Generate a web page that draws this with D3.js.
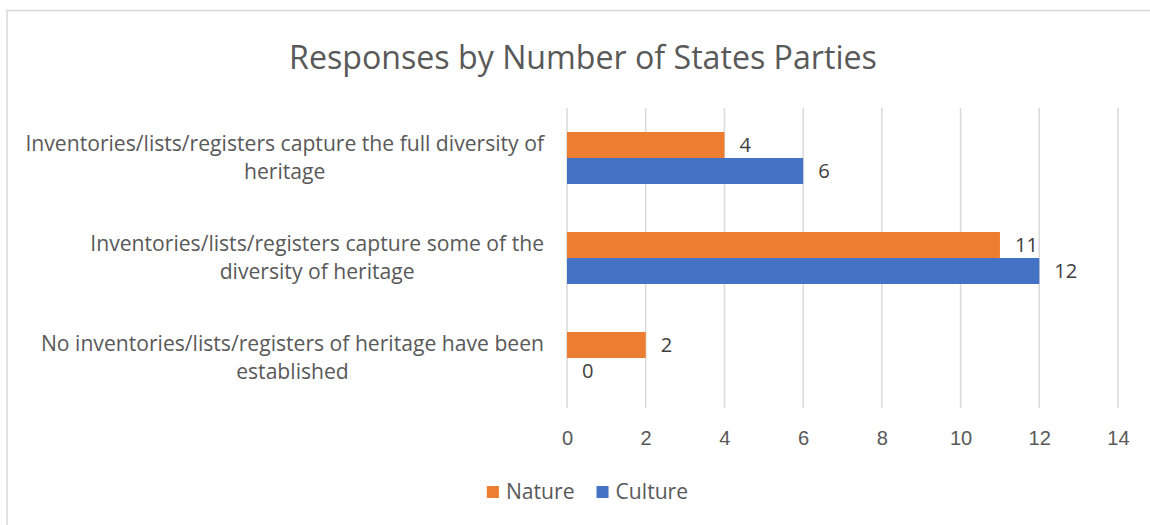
<!DOCTYPE html>
<html>
<head>
<meta charset="utf-8">
<script src="https://cdn.jsdelivr.net/npm/d3@7"></script>
<style>
  html, body { margin: 0; padding: 0; background: #fff; }
  svg { display: block; font-family: "Open Sans", "Noto Sans", sans-serif; }
</style>
</head>
<body>
<svg id="chart" width="1150" height="525"></svg>
<script>
// ---- data ----
const title = "Responses by Number of States Parties";
const categories = [
  "Inventories/lists/registers capture the full diversity of heritage",
  "Inventories/lists/registers capture some of the diversity of heritage",
  "No inventories/lists/registers of heritage have been established"
];
const categoryLines = [
  ["Inventories/lists/registers capture the full diversity of", "heritage"],
  ["Inventories/lists/registers capture some of the", "diversity of heritage"],
  ["No inventories/lists/registers of heritage have been", "established"]
];
const seriesNames = ["Nature", "Culture"];
const natureValues = [4, 11, 2];
const cultureValues = [6, 12, 0];
const xTicks = [0, 2, 4, 6, 8, 10, 12, 14];
const colors = ["#ED7D31", "#4472C4"];

// ---- layout ----
const svg = d3.select("#chart");
const plot = { left: 567, right: 1118, top: 108, bottom: 408 };
const textColor = "#595959";

// border
svg.append("rect")
  .attr("x", 7).attr("y", 10.5)
  .attr("width", 1160).attr("height", 540)
  .attr("fill", "none").attr("stroke", "#d9d9d9").attr("stroke-width", 1.5);

const x = d3.scaleLinear().domain([0, 14]).range([plot.left, plot.right]);
const y = d3.scaleBand().domain(categories).range([plot.top, plot.bottom])
  .paddingInner(0.48).paddingOuter(0.24);
const ySub = d3.scaleBand().domain(seriesNames).range([0, y.bandwidth()]);

// fit helper
function fitSize(text, targetWidth) {
  const t = svg.append("text").attr("font-size", 100).text(text);
  const w = t.node().getComputedTextLength();
  t.remove();
  return 100 * targetWidth / w;
}
const bodySize = fitSize(categoryLines[0][0], 519);
const titleSize = fitSize(title, 588);
const numSize = fitSize("14", 23);

// title
svg.append("text")
  .attr("x", 583).attr("y", 56)
  .attr("text-anchor", "middle").attr("dominant-baseline", "central")
  .attr("font-size", titleSize).attr("fill", textColor)
  .text(title);

// gridlines
svg.append("g").selectAll("line").data(xTicks).join("line")
  .attr("x1", d => x(d)).attr("x2", d => x(d))
  .attr("y1", plot.top).attr("y2", plot.bottom)
  .attr("stroke", "#d9d9d9").attr("stroke-width", 1.5);

// x axis labels via d3 axis
const xAxis = d3.axisBottom(x).tickValues(xTicks).tickSize(0).tickPadding(0);
const gx = svg.append("g").attr("transform", `translate(0, ${plot.bottom})`).call(xAxis);
gx.select(".domain").remove();
gx.selectAll("text")
  .attr("y", 30).attr("dy", "0.35em")
  .attr("font-size", numSize).attr("font-family", null).attr("fill", textColor);

// category labels
const lineH = 28;
const catG = svg.append("g");
categories.forEach((c, i) => {
  const lines = categoryLines[i];
  const cy = y(c) + y.bandwidth() / 2;
  const t = catG.append("text")
    .attr("font-size", bodySize).attr("fill", textColor)
    .attr("text-anchor", "middle");
  lines.forEach((ln, j) => {
    t.append("tspan").attr("x", 0)
      .attr("y", cy + (j - (lines.length - 1) / 2) * lineH)
      .attr("dy", "0.35em").text(ln);
  });
  const bw = d3.max(t.selectAll("tspan").nodes(), n => n.getComputedTextLength());
  t.selectAll("tspan").attr("x", 544 - bw / 2);
});

// bars
const rows = categories.map((c, i) => ({
  cat: c,
  vals: [
    { s: seriesNames[0], v: natureValues[i], color: colors[0] },
    { s: seriesNames[1], v: cultureValues[i], color: colors[1] }
  ]
}));
const groups = svg.append("g").selectAll("g").data(rows).join("g")
  .attr("transform", d => `translate(0, ${y(d.cat)})`);
groups.selectAll("rect").data(d => d.vals).join("rect")
  .attr("x", x(0))
  .attr("y", d => ySub(d.s))
  .attr("width", d => x(d.v) - x(0))
  .attr("height", ySub.bandwidth())
  .attr("fill", d => d.color);
groups.selectAll("text").data(d => d.vals).join("text")
  .attr("x", d => x(d.v) + 15)
  .attr("y", d => ySub(d.s) + ySub.bandwidth() / 2)
  .attr("dy", "0.35em")
  .attr("font-size", numSize).attr("fill", "#404040")
  .text(d => d.v);

// legend
const lg = svg.append("g");
let cx = 0;
seriesNames.forEach((s, i) => {
  lg.append("rect").attr("x", cx).attr("y", -6).attr("width", 12).attr("height", 12)
    .attr("fill", colors[i]);
  const t = lg.append("text").attr("x", cx + 19).attr("y", 0).attr("dy", "0.35em")
    .attr("font-size", bodySize).attr("fill", textColor).text(s);
  cx += 19 + t.node().getComputedTextLength() + 22;
});
const legendW = cx - 22;
lg.attr("transform", `translate(${587.5 - legendW / 2}, 492)`);
</script>
</body>
</html>
